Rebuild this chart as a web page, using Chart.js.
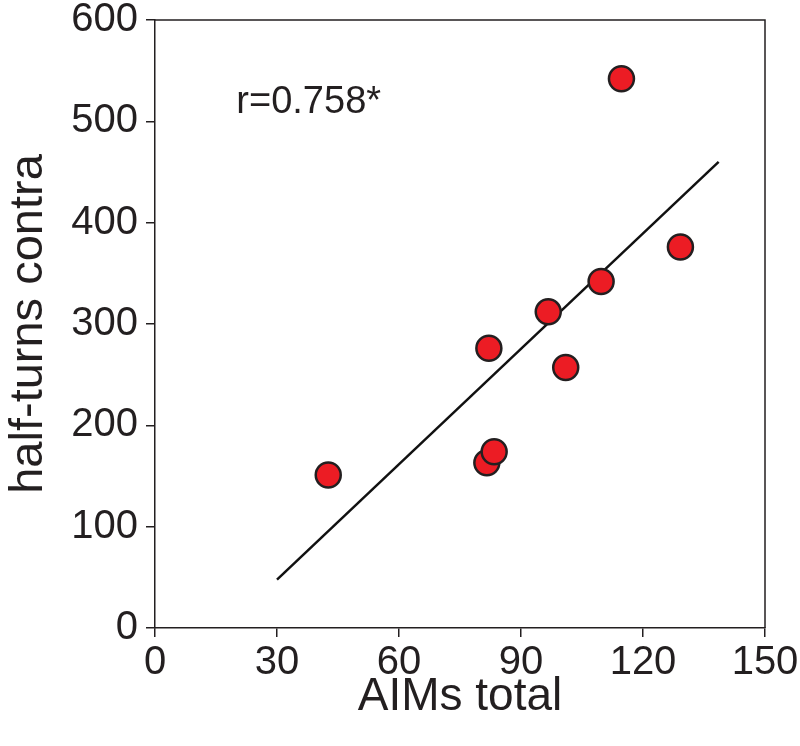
<!DOCTYPE html>
<html>
<head>
<meta charset="utf-8">
<script src="https://cdn.jsdelivr.net/npm/chart.js@4.4.1/dist/chart.umd.min.js"></script>
<style>
  html, body { margin: 0; padding: 0; background: #fff; }
  #wrap { width: 800px; height: 746px; }
</style>
</head>
<body>
<div id="wrap"><canvas id="chart" width="800" height="746"></canvas></div>
<script>
const aims = [42.6, 81.6, 83.4, 82.1, 96.7, 101.0, 109.7, 114.7, 129.2];
const halfTurns = [151, 163, 174, 276, 312, 257, 342, 542, 376];

// regression line end points as drawn in the figure
const fitX = [30, 138.6];
const fitY = [47.7, 460];

const xTicks = [0, 30, 60, 90, 120, 150];
const yTicks = [0, 100, 200, 300, 400, 500, 600];

const rLabel = "r=0.758*";
const inkColor = "#231f20";
const fontName = "'Liberation Sans', Arial, Helvetica, sans-serif";

const points = aims.map((x, i) => ({ x: x, y: halfTurns[i] }));
const fitLine = fitX.map((x, i) => ({ x: x, y: fitY[i] }));

const frame = {
    id: "frame",
    beforeDatasetsDraw(chart) {
        const { ctx, chartArea: a } = chart;
        ctx.save();
        ctx.strokeStyle = inkColor;
        ctx.lineWidth = 1.5;
        ctx.beginPath();
        ctx.moveTo(a.left, a.top);
        ctx.lineTo(a.right, a.top);
        ctx.lineTo(a.right, a.bottom);
        ctx.stroke();
        ctx.restore();
    },
    afterDatasetsDraw(chart) {
        const { ctx, scales } = chart;
        ctx.save();
        ctx.fillStyle = inkColor;
        ctx.font = "38px " + fontName;
        ctx.textAlign = "left";
        ctx.textBaseline = "alphabetic";
        ctx.fillText(rLabel, scales.x.getPixelForValue(20), scales.y.getPixelForValue(508));
        ctx.restore();
    }
};

new Chart(document.getElementById("chart"), {
    type: "scatter",
    data: {
        datasets: [
            {
                data: points,
                backgroundColor: "#ec1c24",
                borderColor: inkColor,
                borderWidth: 2.5,
                pointRadius: 12.5,
                order: 1
            },
            {
                type: "line",
                data: fitLine,
                borderColor: "#111",
                borderWidth: 2.5,
                pointRadius: 0,
                fill: false,
                order: 2
            }
        ]
    },
    options: {
        responsive: false,
        animation: false,
        layout: { padding: { top: 20, right: 35, left: 0, bottom: 0 } },
        plugins: { legend: { display: false }, tooltip: { enabled: false } },
        scales: {
            x: {
                type: "linear",
                min: 0,
                max: 150,
                afterFit: (s) => { s.height = 118; s.paddingLeft = 0; s.paddingRight = 0; },
                afterBuildTicks: (s) => { s.ticks = xTicks.map(v => ({ value: v })); },
                grid: { drawOnChartArea: false, drawTicks: true, tickLength: 9, color: inkColor, lineWidth: 1.5 },
                border: { color: inkColor, width: 1.5 },
                ticks: { color: inkColor, padding: 2, font: { family: fontName, size: 40 } },
                title: {
                    display: true,
                    text: "AIMs total",
                    color: inkColor,
                    font: { family: fontName, size: 46 },
                    padding: { top: 0, bottom: 21 }
                }
            },
            y: {
                type: "linear",
                min: 0,
                max: 600,
                afterFit: (s) => { s.width = 155; s.paddingTop = 0; s.paddingBottom = 0; },
                afterBuildTicks: (s) => { s.ticks = yTicks.map(v => ({ value: v })); },
                grid: { drawOnChartArea: false, drawTicks: true, tickLength: 9, color: inkColor, lineWidth: 1.5 },
                border: { color: inkColor, width: 1.5 },
                ticks: { color: inkColor, padding: 8, font: { family: fontName, size: 40 } },
                title: {
                    display: true,
                    text: "half-turns contra",
                    color: inkColor,
                    font: { family: fontName, size: 47 },
                    padding: { top: 1, bottom: 0 }
                }
            }
        }
    },
    plugins: [frame]
});
</script>
</body>
</html>
